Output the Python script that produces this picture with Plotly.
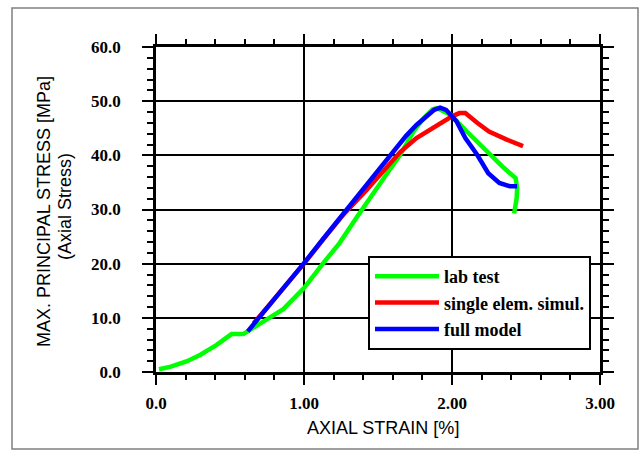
import plotly.graph_objects as go

# ---- data ----
lab_x = [0.02, 0.10, 0.21, 0.30, 0.41, 0.51, 0.59, 0.64, 0.73, 0.86, 1.00, 1.13, 1.24, 1.36,
         1.49, 1.54, 1.65, 1.74, 1.81, 1.87, 1.90, 1.99, 2.10, 2.235, 2.35, 2.43, 2.44, 2.437, 2.42]
lab_y = [0.5, 1.0, 2.0, 3.2, 5.0, 7.0, 7.0, 7.9, 9.4, 11.6, 15.5, 20.1, 23.8, 28.7,
         33.6, 35.8, 40.1, 44.4, 46.9, 48.5, 48.7, 47.5, 44.4, 40.7, 37.7, 35.8, 34.0, 32.1, 29.3]

single_x = [0.66, 0.72, 0.86, 1.00, 1.13, 1.27, 1.42, 1.51, 1.65, 1.76, 1.87, 1.96, 2.00,
            2.05, 2.09, 2.17, 2.25, 2.37, 2.48]
single_y = [9.0, 10.9, 15.4, 20.0, 24.5, 29.2, 33.5, 36.3, 40.6, 43.2, 45.0, 46.6, 47.2,
            47.8, 47.8, 46.0, 44.4, 42.9, 41.7]

full_x = [0.62, 0.72, 0.86, 1.00, 1.13, 1.27, 1.41, 1.47, 1.58, 1.69, 1.76, 1.83, 1.88,
          1.92, 1.96, 2.03, 2.09, 2.17, 2.245, 2.32, 2.39, 2.44]
full_y = [7.5, 10.8, 15.3, 20.1, 24.6, 29.4, 34.2, 36.3, 40.0, 43.6, 45.6, 47.4, 48.4,
          48.8, 48.4, 46.3, 43.2, 40.1, 36.7, 34.9, 34.3, 34.3]

series_names = ["lab test", "single elem. simul.", "full model"]
series_colors = ["#00ff00", "#ff0000", "#0000ff"]

x_tickvals = [0, 1, 2, 3]
x_ticktext = ["0.0", "1.00", "2.00", "3.00"]
y_tickvals = [0, 10, 20, 30, 40, 50, 60]

x_title = "AXIAL STRAIN [%]"
y_title_1 = "MAX. PRINCIPAL STRESS [MPa]"
y_title_2 = "(Axial Stress)"

serif = "Liberation Serif, Times New Roman, serif"
sans = "Liberation Sans, Arial, sans-serif"

fig = go.Figure()
for xs, ys, name, col in zip([lab_x, single_x, full_x], [lab_y, single_y, full_y],
                             series_names, series_colors):
    fig.add_trace(go.Scatter(x=xs, y=ys, mode="lines", name=name,
                             line=dict(color=col, width=4.5)))

axis_common = dict(
    showline=True, linecolor="black", linewidth=2.5, mirror="allticks",
    ticks="outside", tickcolor="black", tickwidth=2,
    showgrid=True, gridcolor="black", gridwidth=2, zeroline=False,
    tickfont=dict(family=serif, size=17, color="black", weight="bold"),
)

fig.update_xaxes(range=[0, 3], tickvals=x_tickvals, ticktext=x_ticktext, ticklen=10,
                 ticklabelstandoff=4,
                 minor=dict(dtick=0.2, tick0=0, ticklen=5, tickwidth=2, tickcolor="black",
                            ticks="outside", showgrid=False),
                 **axis_common)
fig.update_yaxes(range=[0, 60], tickvals=y_tickvals, tickformat=".1f", ticklen=11,
                 ticklabelstandoff=18,
                 minor=dict(dtick=2, tick0=0, ticklen=6, tickwidth=2, tickcolor="black",
                            ticks="outside", showgrid=False),
                 **axis_common)

L, R, T, B = 156, 42, 47, 78
W, H = 642, 450
pw, ph = W - L - R, H - T - B


def px_x(p):
    return (p - L) / pw


def px_y(p):
    return (H - B - p) / ph


fig.add_annotation(text=x_title, xref="paper", yref="paper", x=px_x(383), y=px_y(428),
                   showarrow=False, xanchor="center", yanchor="middle",
                   font=dict(family=sans, size=18, color="black"))
fig.add_annotation(text=y_title_1, xref="paper", yref="paper", x=px_x(44), y=px_y(212),
                   showarrow=False, xanchor="center", yanchor="middle", textangle=-90,
                   font=dict(family=sans, size=18, color="black"))
fig.add_annotation(text=y_title_2, xref="paper", yref="paper", x=px_x(65), y=px_y(207),
                   showarrow=False, xanchor="center", yanchor="middle", textangle=-90,
                   font=dict(family=sans, size=18, color="black"))

fig.add_shape(type="rect", xref="paper", yref="paper",
              x0=px_x(12), x1=px_x(638), y0=px_y(449), y1=px_y(8),
              line=dict(color="#808080", width=1.5), layer="below")

fig.update_layout(
    width=W, height=H,
    margin=dict(l=L, r=R, t=T, b=B),
    paper_bgcolor="white", plot_bgcolor="white",
    showlegend=True,
    legend=dict(x=px_x(368), y=px_y(256), xanchor="left", yanchor="top",
                bgcolor="white", bordercolor="black", borderwidth=2,
                itemwidth=64, tracegroupgap=0,
                font=dict(family=serif, size=18, color="black", weight="bold")),
)

fig.write_html("out.html")
